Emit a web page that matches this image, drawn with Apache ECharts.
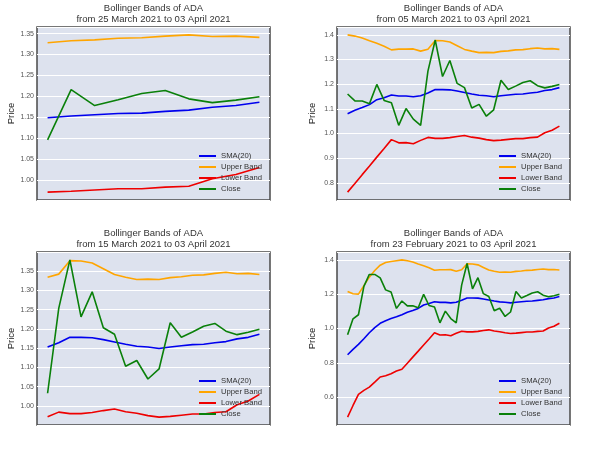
<!DOCTYPE html>
<html>
<head>
<meta charset="utf-8">
<script src="https://cdn.jsdelivr.net/npm/echarts@6/dist/echarts.min.js"></script>
<style>
  html, body { margin: 0; padding: 0; background: #fff; }
  #chart { width: 600px; height: 450px; }
</style>
</head>
<body>
<div id="chart"></div>
<script>
  // 40 daily values, 23 Feb 2021 .. 03 Apr 2021
  const closePrice = [0.963, 1.056, 1.080, 1.245, 1.315, 1.315, 1.295, 1.225, 1.212, 1.117,
    1.160, 1.132, 1.132, 1.121, 1.199, 1.134, 1.125, 1.033, 1.101, 1.058,
    1.033, 1.253, 1.379, 1.231, 1.296, 1.203, 1.186, 1.103, 1.118, 1.070,
    1.096, 1.216, 1.178, 1.192, 1.207, 1.214, 1.194, 1.185, 1.191, 1.199]
  const sma20 = [0.847, 0.878, 0.907, 0.940, 0.975, 1.005, 1.030, 1.045, 1.058, 1.068,
    1.080, 1.094, 1.105, 1.117, 1.137, 1.145, 1.156, 1.152, 1.152, 1.149,
    1.153, 1.164, 1.178, 1.178, 1.177, 1.172, 1.166, 1.160, 1.155, 1.153,
    1.149, 1.153, 1.156, 1.159, 1.160, 1.164, 1.167, 1.174, 1.178, 1.186]
  const upperBand = [1.216, 1.202, 1.200, 1.250, 1.299, 1.338, 1.369, 1.385, 1.390, 1.395,
    1.400, 1.395, 1.387, 1.376, 1.366, 1.354, 1.339, 1.342, 1.342, 1.343,
    1.334, 1.342, 1.377, 1.376, 1.371, 1.356, 1.341, 1.334, 1.328, 1.329,
    1.328, 1.333, 1.335, 1.339, 1.340, 1.344, 1.347, 1.343, 1.344, 1.341]
  const lowerBand = [0.483, 0.551, 0.616, 0.639, 0.658, 0.687, 0.717, 0.724, 0.736, 0.752,
    0.762, 0.797, 0.833, 0.868, 0.904, 0.939, 0.975, 0.962, 0.963, 0.958,
    0.972, 0.984, 0.980, 0.980, 0.983, 0.988, 0.992, 0.985, 0.981, 0.975,
    0.971, 0.973, 0.976, 0.979, 0.979, 0.983, 0.985, 1.003, 1.013, 1.030]

  const seriesNames = ['SMA(20)', 'Upper Band', 'Lower Band', 'Close']
  const seriesColors = ['#0000ee', '#ffa500', '#ee0000', '#0a800a']
  const seriesData = [sma20, upperBand, lowerBand, closePrice]

  // each panel = last n days
  const panels = [
    { n: 10, from: '25 March 2021', step: 0.05, split: 8, dec: 2, x: 0, y: 0 },
    { n: 30, from: '05 March 2021', step: 0.1, split: 7, dec: 1, x: 300, y: 0 },
    { n: 20, from: '15 March 2021', step: 0.05, split: 8, dec: 2, x: 0, y: 225 },
    { n: 40, from: '23 February 2021', step: 0.2, split: 5, dec: 1, x: 300, y: 225 },
  ]

  const font = "'Liberation Sans', Arial, sans-serif"
  // matplotlib style 5% margins
  const padMin = (v)=> v.min - 0.05 * (v.max - v.min)
  const padMax = (v)=> v.max + 0.05 * (v.max - v.min)

  const title = [], grid = [], xAxis = [], yAxis = [], legend = [], series = []
  panels.forEach((p, k)=> {
    title.push({
      text: 'Bollinger Bands of ADA\nfrom ' + p.from + ' to 03 April 2021',
      left: p.x + 153.5, top: p.y + 2.5, textAlign: 'center', padding: 0,
      textStyle: { fontFamily: font, fontSize: 9.5, lineHeight: 11.5, fontWeight: 'normal', color: '#333' }
    })
    grid.push({
      left: p.x + 37, top: p.y + 27, width: 233, height: 173,
      show: true, backgroundColor: '#dde2ee', borderColor: '#4a4a4a', borderWidth: 1.5
    })
    xAxis.push({
      type: 'value', gridIndex: k, min: padMin, max: padMax,
      axisLabel: { show: false }, axisTick: { show: false }, axisLine: { show: false },
      splitLine: { show: false }
    })
    yAxis.push({
      type: 'value', gridIndex: k, min: padMin, max: padMax,
      splitNumber: p.split, minInterval: p.step, maxInterval: p.step,
      name: 'Price', nameLocation: 'middle', nameGap: 20,
      nameTextStyle: { fontFamily: font, fontSize: 9.5, color: '#222' },
      axisLine: { show: false }, axisTick: { show: false },
      axisLabel: {
        fontFamily: font, fontSize: 7, color: '#555', margin: 3,
        formatter: (v)=> {
          let r = v / p.step
          return Math.abs(r - Math.round(r)) < 1e-6 ? v.toFixed(p.dec) : ''
        }
      },
      splitLine: { lineStyle: { color: '#fff', width: 1 } }
    })
    legend.push({
      orient: 'vertical', left: p.x + 199, top: p.y + 150.5, padding: 0,
      itemWidth: 17, itemHeight: 2, itemGap: 0, icon: 'rect',
      data: seriesNames,
      textStyle: { fontFamily: font, fontSize: 7.7, color: '#333', lineHeight: 11 }
    })
    const start = closePrice.length - p.n
    seriesData.forEach((arr, j)=> {
      series.push({
        name: seriesNames[j], type: 'line', xAxisIndex: k, yAxisIndex: k,
        data: arr.slice(start).map((v, i)=> [i, v]),
        showSymbol: false, symbol: 'none', silent: true,
        lineStyle: { color: seriesColors[j], width: 1.6 },
        itemStyle: { color: seriesColors[j] }
      })
    })
  })

  const mychart = echarts.init(document.getElementById('chart'), null, { renderer: 'canvas' })
  mychart.setOption({ animation: false, title, grid, xAxis, yAxis, legend, series })
</script>
</body>
</html>
